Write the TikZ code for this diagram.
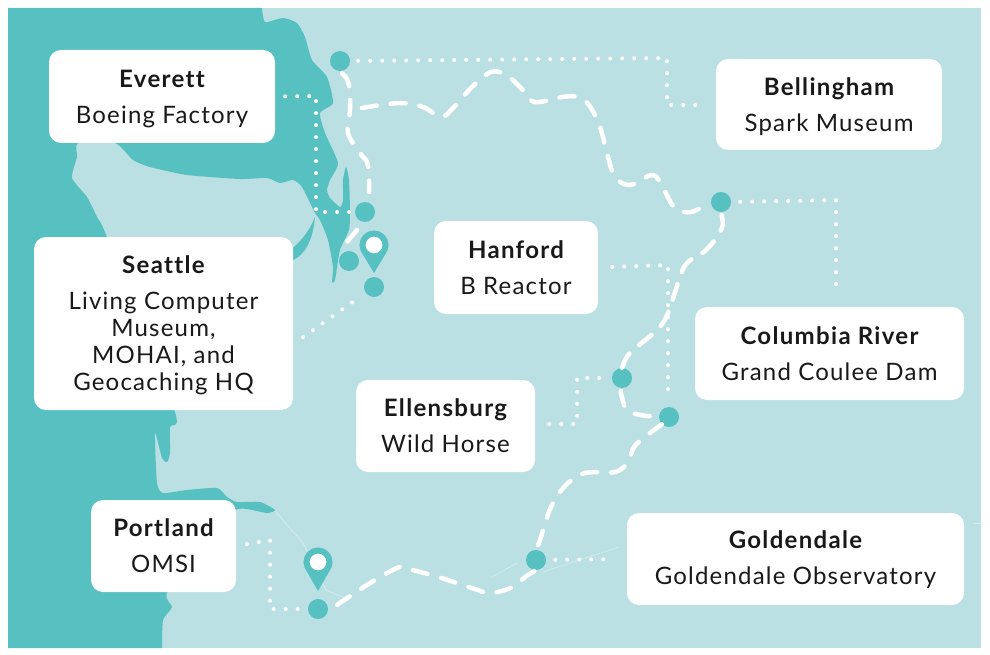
\documentclass[tikz,border=0pt]{standalone}
\usepackage{fontspec}
\setmainfont{Lato}[LetterSpace=5, Ligatures=CommonOff, BoldFeatures={LetterSpace=5.5}]
\definecolor{landColor}{HTML}{BAE0E3}
\definecolor{waterColor}{HTML}{57C0C0}
\begin{document}
\begin{tikzpicture}[x=1pt,y=-1pt]
\tikzstyle{placeBox} =
[
	shape			= rectangle,		% shape
	rounded corners	= 12pt,				% roundness of the corners
	fill			= white,			% filling color
	align			= center,			% lines are centred
	inner sep		= 0pt,				% size comes from the minimum size
	text			= black!90,			% colour of the text
	font			= \fontsize{24}{27}\selectfont	% used font
]
\tikzstyle{stopDot} =
[
	shape			= circle,
	fill			= waterColor,
	inner sep		= 0pt,
	minimum size	= 20pt
]
\tikzstyle{pinHead} =
[
	shape			= circle,
	fill			= white,
	draw			= waterColor,
	line width		= 6pt,
	inner sep		= 0pt,
	minimum size	= 23pt
]
\tikzstyle{trail} = [draw=white, line width=4.5pt, line cap=round, dash pattern=on 15pt off 14pt]
\tikzstyle{dotLine} = [draw=white, line width=4pt, line cap=round, dash pattern=on 0pt off 12pt]
\tikzstyle{riverLine} = [draw=white!35!landColor, line width=0.8pt]
% the optional height pushes the text of a box down
\newcommand{\placeName}[2][0pt]{\rule{0pt}{#1}{\bfseries #2}\\[9pt]}
\useasboundingbox (0,0) rectangle (990,655);
\fill [white] (0,0) rectangle (990,655);
\fill [landColor] (8,8) rectangle (981,648);
% coast and sound
\fill [waterColor] plot [smooth, tension=0.35] coordinates {(262,8) (265,22) (283,18) (297,23) (305,37) (312,60) (327,77) (333,103) (320,113) (325,133) (338,163) (330,180) (327,190) (330,198) (340,207) (343,200) (343,180) (346,167) (349,180) (350,213) (349,230) (340,250) (335,280) (332,282) (333,267) (328,240) (320,220) (315,213) (302,187) (293,180) (280,183) (267,178) (240,179) (187,175) (150,167) (133,160) (115,143) (78,143) (77,157) (72,178) (87,197) (97,217) (107,237) (175,412) (170,427) (170,453) (167,462) (162,458) (155,433) (157,483) (163,493) (187,490) (217,488) (227,497) (237,502) (260,502) (275,510) (267,513) (247,509) (235,510) (200,530) (167,593) (172,607) (163,620) (162,648)} -- (8,648) -- (8,8) -- cycle;
\fill [waterColor] (315,217) .. controls (310,230) and (302,240) .. (293,248) -- (293,260) .. controls (305,255) and (313,240) .. (315,217) -- cycle;
% faint river
\draw [riverLine] (275,511) -- (303,543) -- (326,590) -- (345,598);
\draw [riverLine] (490,578) -- (517,563);
\draw [riverLine] (543,572) -- (619,547);
\draw [riverLine] (973,523) -- (981,523);
% places
\node (everett) [placeBox, minimum width=226pt, minimum height=93pt] at (162,96.5) {\placeName[22pt]{Everett}Boeing Factory};
\node (bellingham) [placeBox, minimum width=226pt, minimum height=91pt] at (829,104.5) {\placeName[22pt]{Bellingham}Spark Museum};
\node (hanford) [placeBox, minimum width=164pt, minimum height=93pt] at (516,267.5) {\placeName{Hanford}B Reactor};
\node (seattle) [placeBox, minimum width=259pt, minimum height=173pt] at (163.5,323.5) {\placeName[22pt]{Seattle}Living Computer\\Museum,\\MOHAI, and\\Geocaching HQ};
\node (columbia) [placeBox, minimum width=269pt, minimum height=93pt] at (829.5,353.5) {\placeName{Columbia River}Grand Coulee Dam};
\node (ellensburg) [placeBox, minimum width=179pt, minimum height=92pt] at (445.5,426) {\placeName{Ellensburg}Wild Horse};
\node (portland) [placeBox, minimum width=145pt, minimum height=92pt] at (163.5,546) {\placeName{Portland}OMSI};
\node (goldendale) [placeBox, minimum width=337pt, minimum height=92pt] at (795.5,559) {\placeName[20pt]{Goldendale}Goldendale Observatory};
% stops
\node (stopNorth) [stopDot] at (340,61) {};
\node (stopSound) [stopDot] at (365,212) {};
\node (stopCity) [stopDot] at (349,261) {};
\node (stopSouth) [stopDot] at (374,287) {};
\node (stopDam) [stopDot] at (721,202) {};
\node (stopHorse) [stopDot] at (622,378) {};
\node (stopRiver) [stopDot] at (669,417) {};
\node (stopGorge) [stopDot] at (536,560) {};
\node (stopPortland) [stopDot] at (318,609) {};
% pins
\fill [waterColor] (362,253) -- (374,273) -- (386,253) -- cycle;
\node (pinSeattle) [pinHead] at (374,245) {};
\fill [waterColor] (306,570) -- (318,591) -- (330,570) -- cycle;
\node (pinPortland) [pinHead] at (318,562) {};
% bends of the dotted lines
\coordinate (bendA) at (316,96);
\coordinate (bendB) at (316,212);
\coordinate (bendC) at (667,58);
\coordinate (bendD) at (667,105);
\coordinate (bendE) at (836,200);
\coordinate (bendF) at (668,265);
\coordinate (bendG) at (577,424);
\coordinate (bendH) at (577,378);
\coordinate (bendI) at (270,540);
\coordinate (bendJ) at (270,609);
\draw [dotLine, shorten <=10pt] (everett.east) -- (bendA) -- (bendB) -- (stopSound.west);
\draw [dotLine, shorten <=8pt, shorten >=16pt] (stopNorth.east) -- (bendC) -- (bendD) -- (bellingham.west |- bendD);
\draw [dotLine, shorten <=9pt, shorten >=11pt] (stopDam.east) -- (bendE) -- (columbia.north -| bendE);
\draw [dotLine, shorten <=14pt, shorten >=12pt] (hanford.east) -- (bendF) -- (stopRiver.north -| bendF);
\draw [dotLine, shorten <=14pt, shorten >=8pt] (ellensburg.east |- bendG) -- (bendG) -- (bendH) -- (stopHorse.west);
\draw [dotLine, shorten <=11pt, shorten >=4pt] (portland.east) -- (bendI) -- (bendJ) -- (stopPortland.west);
\draw [dotLine, shorten <=9pt, shorten >=12pt] (stopGorge.east) -- (goldendale.west);
\draw [dotLine, shorten <=12pt, shorten >=12pt] (seattle.east |- 0,344) -- (stopSouth);
% the route
\draw [trail, shorten <=3pt] plot [smooth, tension=0.6] coordinates {(stopNorth.south) (349,85) (350,110) (348,133) (360,153) (368,165) (369,192)};
\draw [trail] (357,230) -- (347,242);
\draw [trail, shorten >=3pt] plot [smooth, tension=0.6] coordinates {(362,108) (400,103) (423,107) (441,117) (453,108) (472,87) (491,72) (506,75) (521,88) (534,102) (562,97) (577,97) (589,105) (600,127) (608,157) (615,177) (630,185) (653,175) (664,190) (675,208) (691,212) (stopDam.west)};
\draw [trail, dash pattern=on 16pt off 13pt, shorten <=3pt] plot [smooth, tension=0.6] coordinates {(stopDam.south) (721,230) (706,250) (687,263) (679,280) (668,313) (657,330) (630,353) (stopHorse.north)};
\draw [trail, shorten <=3pt, shorten >=3pt] plot [smooth, tension=0.7] coordinates {(stopHorse.south) (622,397) (630,412) (stopRiver.west)};
\draw [trail] plot [smooth, tension=0.6] coordinates {(stopRiver.south west) (645,437) (634,447) (628,462) (615,472) (585,473) (566,485) (551,507) (540,540) (stopGorge.north)};
\draw [trail, shorten <=2pt] plot [smooth, tension=0.6] coordinates {(stopGorge.south) (525,577) (513,587) (490,593) (472,588) (438,577) (408,569) (397,568) (367,585) (337,605)};
\end{tikzpicture}
\end{document}
